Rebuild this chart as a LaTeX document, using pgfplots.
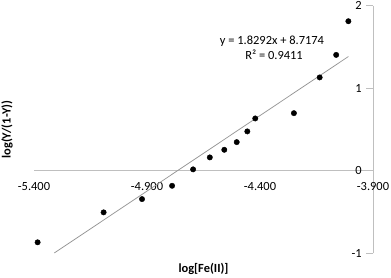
\documentclass[border=0pt]{standalone}
\usepackage{fontspec}
\setmainfont{Carlito}
\usepackage{pgfplots}
\pgfplotsset{compat=1.18}
\definecolor{axgray}{RGB}{191,191,191}
\definecolor{trend}{RGB}{150,150,150}
\begin{document}
\fontsize{12.5}{15}\selectfont
\begin{tikzpicture}
\begin{axis}[
 scale only axis, width=339bp, height=247.6bp,
 xmin=-5.4, xmax=-3.9, ymin=-1, ymax=2,
 axis x line=middle, axis y line=right,
 axis line style={draw=axgray, line width=0.75bp, -},
 hide obscured x ticks=false, hide obscured y ticks=false,
 xtick={-5.4,-4.9,-4.4,-3.9}, xticklabels={-5.400,-4.900,-4.400,-3.900},
 ytick={-1,0,1,2}, yticklabels={-1,0,1,2},
 xtick style={draw=none},
 ytick style={draw=axgray, line width=0.75bp},
 tick align=inside, major tick length=7bp,
 xticklabel style={anchor=center, yshift=-16bp},
 yticklabel style={anchor=east, xshift=-7bp},
 clip=false,
]
\addplot[trend, line width=0.75bp, no marks] coordinates {(-5.310,-0.996) (-4.009,1.384)};
\addplot[only marks, mark=*, mark size=2.7bp, black] coordinates {
(-5.384,-0.867) (-5.092,-0.504) (-4.922,-0.343) (-4.789,-0.182)
(-4.696,0.017) (-4.622,0.162) (-4.558,0.254) (-4.503,0.347)
(-4.456,0.477) (-4.421,0.634) (-4.250,0.698) (-4.136,1.131)
(-4.063,1.404) (-4.009,1.812)};
\node at (axis cs:-4.347,1.574) {y = 1.8292x + 8.7174};
\node at (axis cs:-4.338,1.40) {R² = 0.9411};
\node[font=\bfseries, rotate=90] at ([xshift=-27bp]rel axis cs:0,0.5) {log(Y/(1-Y))};
\node[font=\bfseries] at ([yshift=-15.7bp]rel axis cs:0.5,0) {log[Fe(II)]};
\end{axis}
\pgfresetboundingbox
\path[use as bounding box] ([shift={(-34bp,-24.7bp)}]current axis.south west) rectangle ([shift={(18bp,5.7bp)}]current axis.north east);
\end{tikzpicture}
\end{document}
